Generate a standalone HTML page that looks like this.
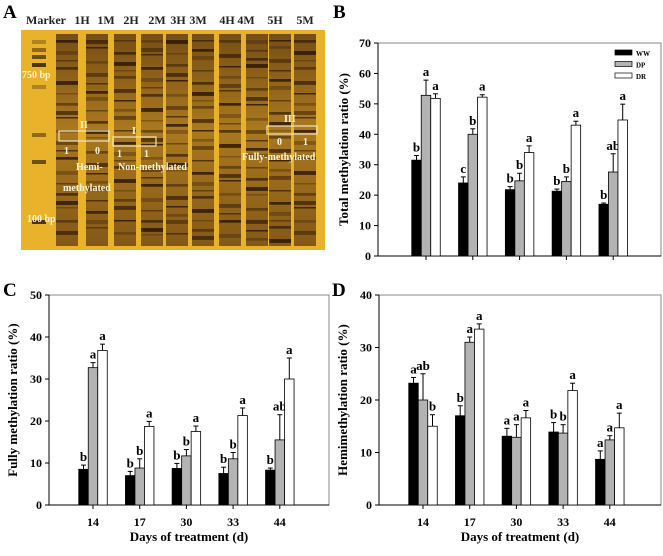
<!DOCTYPE html>
<html><head><meta charset="utf-8"><style>
html,body{margin:0;padding:0;background:#fff;}
svg{display:block;font-family:"Liberation Serif",serif;font-weight:bold;}
</style></head><body>
<svg id="fig" width="663" height="556" viewBox="0 0 663 556" xmlns="http://www.w3.org/2000/svg">
<defs>
<linearGradient id="laneG" x1="0" y1="0" x2="0" y2="1">
<stop offset="0" stop-color="#5a3510"/><stop offset="0.45" stop-color="#9a6a1c"/><stop offset="1" stop-color="#6a4212"/>
</linearGradient>
</defs>
<g id="panelA">
<text x="3" y="18" font-size="19">A</text>
<rect x="21" y="30" width="304" height="220" fill="#e8b22a"/>
<g id="lanes"></g>
<g font-size="12" fill="#222" id="laneLabels"></g>
<g stroke="#f3e6c0" stroke-width="1.2" fill="none">
<rect x="59" y="131" width="50" height="10"/><rect x="113" y="137" width="43" height="9"/><rect x="267" y="126" width="50" height="8"/>
</g>
<g fill="#fff6d8" font-size="10">
<text x="22" y="78">750 bp</text><text x="27" y="222">100 bp</text>
<text x="80" y="128">II</text><text x="132" y="134">I</text><text x="284" y="122">III</text>
<text x="64" y="154">1</text><text x="95" y="154">0</text><text x="117" y="157">1</text><text x="144" y="157">1</text>
<text x="277" y="145">0</text><text x="303" y="145">1</text>
<text x="76" y="170">Hemi-</text><text x="63" y="191">methylated</text>
<text x="118" y="170">Non-methylated</text><text x="242" y="160">Fully-methylated</text>
</g>
</g>
<g id="charts"></g>
</svg>
<script>
const NS="http://www.w3.org/2000/svg";
const svg=document.getElementById('fig');
function mk(tag,attrs,parent){const e=document.createElementNS(NS,tag);for(const k in attrs)e.setAttribute(k,attrs[k]);(parent||svg).appendChild(e);return e;}

// Gel lanes
const laneNames=["Marker","1H","1M","2H","2M","3H","3M","4H","4M","5H","5M"];
const labelX=[46,82,106,131,157,178,198,227,246,275,305];
const laneX=[39,67,97,125,152,177,203,230,257,280,305];
const lanesG=document.getElementById('lanes');
laneX.forEach((cx,i)=>{
  const w=i===0?14:22;
  if(i>0){
    const r=mk('rect',{x:cx-w/2,y:34,width:w,height:212,fill:'url(#laneG)',opacity:0.8},lanesG);
    
    
  }
  const ys=i===0?[40,48,55,63,85,133,160,220]:[];
  if(i>0){let y=40;let b=0;while(y<240){ys.push(y);y+=6+((i*5+b*7)%9);b++;}}
  ys.forEach((y,b)=>{
    const h=i===0?4:(1.5+((i+b)%3)*1.2);
    const l=mk('rect',{x:cx-w/2,y:y,width:w,height:h,fill:'#2a1605',opacity:0.3+((i*3+b)%4)*0.17},lanesG);
    
    
  });
  const t=mk('text',{x:labelX[i],y:24,'text-anchor':'middle'},document.getElementById('laneLabels'));
  t.textContent=laneNames[i];
  
  
});

// Chart data
const days=["14","17","30","33","44"];
const B_WW=[31.5,24,21.8,21.3,17], B_WWe=[1.5,2,1,0.7,0.4];
const B_DP=[52.8,40,24.7,24.5,27.6], B_DPe=[5,1.8,2.5,1.5,6];
const B_DR=[51.8,52.2,34,43,44.7], B_DRe=[1.5,0.8,2.2,1.3,5.2];
const B_L=[["b","c","b","b","b"],["a","b","b","b","ab"],["a","a","a","a","a"]];
const C_WW=[8.5,7,8.7,7.5,8.3], C_WWe=[1,1,1.2,1.5,0.5];
const C_DP=[32.7,8.8,11.7,11,15.5], C_DPe=[1.2,2.2,1.5,1.5,6];
const C_DR=[36.8,18.7,17.5,21.3,30], C_DRe=[1.5,1.2,1.3,1.8,5];
const C_L=[["b","b","b","b","b"],["a","b","b","b","ab"],["a","a","a","a","a"]];
const D_WW=[23.2,17,13.1,13.9,8.7], D_WWe=[1.1,1.9,1.5,1.8,1.6];
const D_DP=[20,31,12.9,13.7,12.4], D_DPe=[5,1,2.4,1.6,0.8];
const D_DR=[15,33.5,16.6,21.8,14.7], D_DRe=[2.2,1,1.4,1.4,2.8];
const D_L=[["a","b","a","b","a"],["ab","a","a","b","a"],["b","a","a","a","a"]];
const fills=["#000","#b3b3b3","#fff"];
const seriesNames=["WW","DP","DR"];

function panel(o){
  const g=mk('g',{},document.getElementById('charts'));
  
  
  const y=v=>o.y0-(v/o.max)*(o.y0-o.y1);
  const x=i=>o.x0+o.first+i*o.step;
  mk('rect',{x:o.x0,y:o.y1,width:o.x2-o.x0,height:o.y0-o.y1,fill:'none',stroke:'#888','stroke-width':1},g);
  mk('line',{x1:o.x0,y1:o.y1,x2:o.x0,y2:o.y0,stroke:'#000'},g);
  mk('line',{x1:o.x0,y1:o.y0,x2:o.x2,y2:o.y0,stroke:'#000'},g);
  for(let v=0;v<=o.max;v+=10){
    mk('line',{x1:o.x0-4,y1:y(v),x2:o.x0,y2:y(v),stroke:'#000'},g);
    const t=mk('text',{x:o.x0-7,y:y(v)+4,'font-size':12,'text-anchor':'end'},g);
    t.textContent=v;
    
    
  }
  const bw=9.5;
  days.forEach((d,i)=>{
    mk('line',{x1:x(i),y1:o.y0,x2:x(i),y2:o.y0+4,stroke:'#000'},g);
    if(o.xlabels){
      const t=mk('text',{x:x(i),y:o.y0+21,'font-size':12,'text-anchor':'middle'},g);
      t.textContent=d;
      
      
    }
    o.series.forEach((s,k)=>{
      const bx=x(i)+(k-1.5)*bw;
      const top=y(s[0][i]), et=y(s[0][i]+s[1][i]);
      const ec=bx+bw/2;
      mk('line',{x1:ec,y1:top,x2:ec,y2:et,stroke:'#000'},g);
      mk('line',{x1:ec-2.5,y1:et,x2:ec+2.5,y2:et,stroke:'#000'},g);
      const r=mk('rect',{x:bx,y:top,width:bw,height:o.y0-top,fill:fills[k],stroke:'#000','stroke-width':0.8},g);
      
      
      const t=mk('text',{x:ec,y:et-4,'font-size':13,'text-anchor':'middle'},g);
      t.textContent=o.letters[k][i];
      
      
    });
  });
  const yt=mk('text',{x:0,y:0,'font-size':13,'text-anchor':'middle',transform:`translate(${o.tx},${(o.y0+o.y1)/2}) rotate(-90)`},g);
  yt.textContent=o.ytitle;
  
  
  if(o.xlabels){
    const xt=mk('text',{x:(o.x0+o.x2)/2,y:541,'font-size':13,'text-anchor':'middle'},g);
    xt.textContent="Days of treatment (d)";
    
    
  }
  const pl=mk('text',{x:o.lx,y:o.ly,'font-size':19},g);
  pl.textContent=o.label;
  
  
  if(o.legend){
    seriesNames.forEach((n,k)=>{
      mk('rect',{x:615,y:50+k*11.5,width:17,height:5,fill:fills[k],stroke:'#000','stroke-width':0.7},g);
      const t=mk('text',{x:636,y:56+k*11.5,'font-size':7},g);
      t.textContent=n;
      
      
    });
  }
}
panel({name:'chart-total-methylation',x0:378,x2:661,y0:256,y1:43,max:70,first:48,step:46.8,
  series:[[B_WW,B_WWe],[B_DP,B_DPe],[B_DR,B_DRe]],letters:B_L,ytitle:"Total methylation ratio (%)",tx:348,
  xlabels:false,label:"B",lx:333,ly:18,legend:true});
panel({name:'chart-fully-methylation',x0:49,x2:329,y0:505,y1:295,max:50,first:44,step:46.7,
  series:[[C_WW,C_WWe],[C_DP,C_DPe],[C_DR,C_DRe]],letters:C_L,ytitle:"Fully methylation ratio (%)",tx:17,
  xlabels:true,label:"C",lx:3,ly:296,legend:false});
panel({name:'chart-hemimethylation',x0:379,x2:661,y0:505,y1:295,max:40,first:44,step:46.7,
  series:[[D_WW,D_WWe],[D_DP,D_DPe],[D_DR,D_DRe]],letters:D_L,ytitle:"Hemimethylation ratio (%)",tx:347,
  xlabels:true,label:"D",lx:332,ly:296,legend:false});
</script>
</body></html>
